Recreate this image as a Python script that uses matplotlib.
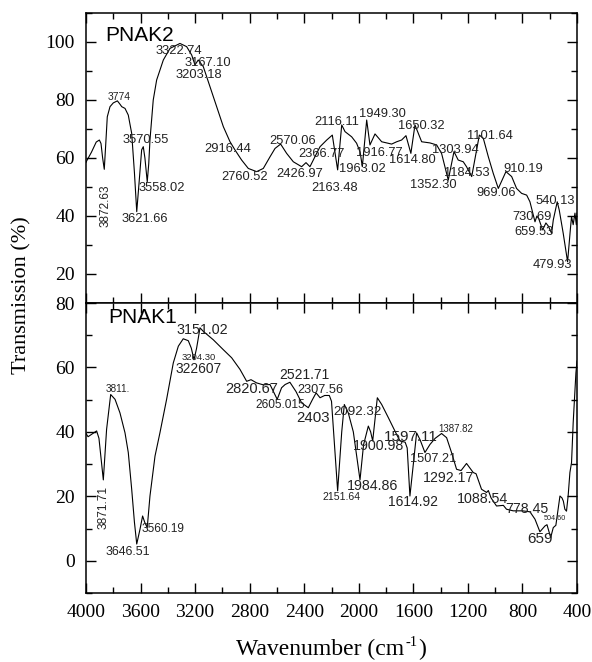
import matplotlib
matplotlib.use("Agg")
import matplotlib.pyplot as plt
from matplotlib.ticker import MultipleLocator

# ---------------- data ----------------
pnak2_wavenumber = [4000, 3995, 3960, 3925, 3902, 3890, 3878, 3866, 3855, 3844, 3824, 3800, 3770,
                    3750, 3738, 3714, 3690, 3675, 3665, 3645, 3628, 3610, 3592, 3580, 3568, 3551,
                    3540, 3531, 3507, 3482, 3433, 3384, 3311, 3262, 3225, 3201, 3177, 3140, 3091,
                    3042, 2993, 2944, 2908, 2859, 2810, 2749, 2700, 2651, 2614, 2573, 2529, 2480,
                    2419, 2387, 2358, 2309, 2284, 2235, 2194, 2155, 2125, 2101, 2052, 2016, 1990,
                    1974, 1942, 1918, 1881, 1832, 1759, 1722, 1686, 1654, 1618, 1588, 1539, 1478,
                    1429, 1393, 1344, 1302, 1271, 1234, 1210, 1172, 1136, 1116, 1087, 1050, 1014,
                    977, 921, 879, 843, 806, 769, 745, 708, 694, 680, 652, 628, 610, 586, 574, 545,
                    530, 501, 469, 447, 440, 428, 415, 405, 400]
pnak2_transmission = [58.5, 59, 62, 65.5, 66.2, 65, 60, 56.1, 65, 74.2, 77.7, 79, 79.7,
                      78.5, 77.7, 77.1, 74.8, 71, 68.5, 55, 41.5, 52, 62.8, 63.9, 60, 51.8,
                      58, 66.2, 80, 86.9, 93.8, 97.8, 99.5, 98.4, 95.5, 92.1, 93.8, 91.5, 84.6,
                      77.7, 70.8, 65.6, 62.8, 59.3, 56.4, 55.3, 56.4, 60.4, 63.3, 64.8, 61.6, 58.7,
                      57, 58.4, 57, 61.6, 63.9, 66.2, 67.9, 55.9, 71.4, 69.1, 67.3, 65.1, 62,
                      57, 73.1, 64.5, 68.3, 65.6, 64.8, 65.6, 66.2, 67.7, 61.6, 71.4, 65.6, 65.2,
                      64.5, 61.6, 52.4, 62.2, 59.3, 58.7, 57, 53.6, 62.8, 67.9, 66.8, 60.4, 54.7,
                      49.5, 55.3, 53.6, 49.5, 47.8, 47.2, 44.9, 38, 40, 39, 35.2, 37.6, 36.5, 34, 38.6, 44.9,
                      42, 34, 24.2, 36.3, 39.8, 37, 41, 37, 41]

pnak1_wavenumber = [4000, 3985, 3950, 3922, 3905, 3873, 3849, 3819, 3787, 3751, 3714, 3690, 3665,
                    3645, 3628, 3604, 3585, 3570, 3551, 3531, 3494, 3458, 3409, 3360, 3323, 3287,
                    3250, 3228, 3208, 3189, 3164, 3140, 3067, 2993, 2932, 2871, 2822, 2790, 2749,
                    2700, 2651, 2598, 2566, 2540, 2505, 2460, 2419, 2370, 2340, 2313, 2284, 2250,
                    2216, 2200, 2155, 2125, 2106, 2077, 2040, 1991, 1965, 1930, 1913, 1898, 1864,
                    1832, 1783, 1747, 1720, 1698, 1660, 1645, 1625, 1600, 1576, 1550, 1515, 1478,
                    1440, 1393, 1356, 1320, 1283, 1250, 1210, 1161, 1140, 1100, 1063, 1050, 1030,
                    990, 940, 917, 868, 800, 745, 708, 672, 635, 620, 593, 574, 555, 525, 510, 500,
                    489, 477, 465, 452, 440, 428, 408, 400]
pnak1_transmission = [39.5, 38.5, 39.5, 40.3, 38, 25.1, 40.8, 51.6, 50.1, 45.9, 39.7, 33.6, 22.2,
                      12, 5.2, 9.8, 13.9, 12, 10.3, 20.1, 32.5, 39.7, 50.1, 61.4, 66.6, 68.9,
                      68.3, 66, 62.4, 66, 72.3, 71.2, 68.6, 65.5, 63, 59.4, 55.7, 56.2, 55.2,
                      54.6, 54.7, 50.1, 53.7, 54.7, 55.4, 52.5, 49, 47.5, 50, 52.1, 50.6, 51.3,
                      51.3, 49.5, 21.7, 40, 48.5, 45.9, 40, 25.1, 36, 41.8, 40, 37.2, 50.6,
                      48.5, 44.4, 41.3, 39, 37.2, 36.8, 35, 20.1, 30, 39.7, 37.5, 33.6, 36.1,
                      38, 39.5, 38.2, 33.6, 28.4, 28, 30.2, 27.4, 27, 22.2, 21.2, 21.8, 19.5,
                      17, 17.2, 16, 15.5, 15.5, 15.2, 12.9, 9, 10.8, 11.2, 7.2, 10.3, 11, 20.1, 19.5, 18.5,
                      16, 15.4, 20.1, 27.4, 30.5, 42.8, 58.3, 62]

# peak labels: text, wavenumber, transmission, font size, rotation
pnak2_labels = [
    ("3322.74", 3316, 97.0, 9.3, 0), ("3167.10", 3103, 92.9, 9.3, 0), ("3203.18", 3174, 88.6, 9.3, 0),
    ("3774", 3760, 81.1, 7.5, 0), ("3570.55", 3565, 66.2, 9.3, 0), ("2916.44", 2959, 63.0, 9.3, 0),
    ("3558.02", 3445, 49.8, 9.3, 0), ("3621.66", 3567, 39.0, 9.3, 0), ("3872.63", 3856, 43.6, 8.5, 90),
    ("2760.52", 2837, 53.6, 9.3, 0), ("2570.06", 2485, 66.0, 9.3, 0), ("2426.97", 2434, 54.6, 9.3, 0),
    ("2366.77", 2270, 61.4, 9.3, 0), ("2163.48", 2174, 49.8, 9.3, 0), ("2116.11", 2160, 72.3, 9.3, 0),
    ("1949.30", 1825, 75.2, 9.3, 0), ("1916.77", 1850, 61.8, 9.3, 0), ("1963.02", 1972, 56.2, 9.3, 0),
    ("1650.32", 1544, 71.0, 9.3, 0), ("1614.80", 1608, 59.3, 9.3, 0), ("1303.94", 1295, 62.8, 9.3, 0),
    ("1101.64", 1036, 67.6, 9.3, 0), ("1352.30", 1451, 50.7, 9.3, 0), ("1184.53", 1205, 55.0, 9.3, 0),
    ("910.19", 791, 56.2, 9.3, 0), ("969.06", 994, 48.0, 9.3, 0), ("540.13", 561, 45.2, 9.3, 0),
    ("730.69", 733, 39.8, 9.3, 0), ("659.53", 718, 34.6, 9.3, 0), ("479.93", 579, 23.1, 9.3, 0),
]
pnak1_labels = [
    ("3151.02", 3150, 71.5, 10.3, 0), ("3204.30", 3177, 63.0, 6.8, 0), ("322607", 3174, 59.6, 9.9, 0),
    ("3811.", 3770, 53.2, 7.2, 0), ("2820.67", 2788, 53.2, 10.5, 0), ("2521.71", 2402, 57.8, 10.0, 0),
    ("2605.015", 2575, 48.2, 8.6, 0), ("2403", 2336, 44.4, 10.8, 0), ("2307.56", 2284, 53.0, 9.2, 0),
    ("3871.71", 3873, 16.5, 8.6, 90), ("3646.51", 3690, 2.6, 8.9, 0), ("3560.19", 3438, 9.8, 8.6, 0),
    ("2092.32", 2011, 46.1, 9.6, 0), ("2151.64", 2126, 19.9, 7.6, 0), ("1984.86", 1899, 23.2, 10.3, 0),
    ("1900.98", 1852, 35.6, 10.3, 0), ("1597.11", 1622, 38.5, 11.0, 0), ("1387.82", 1290, 40.8, 7.0, 0),
    ("1507.21", 1456, 31.7, 9.2, 0), ("1292.17", 1344, 25.6, 10.2, 0), ("1614.92", 1600, 18.1, 10.0, 0),
    ("1088.54", 1095, 19.1, 10.3, 0), ("778.45", 769, 16.0, 10.2, 0), ("504.60", 559, 13.1, 5.2, 0),
    ("659", 670, 6.9, 11.0, 0),
]

x_ticks = [4000, 3600, 3200, 2800, 2400, 2000, 1600, 1200, 800, 400]
top_yticks = [20, 40, 60, 80, 100]
bottom_yticks = [0, 20, 40, 60, 80]

# ---------------- figure ----------------
plt.rcParams['font.family'] = ['Liberation Serif', 'DejaVu Serif']

W, H = 592, 662
fig = plt.figure(figsize=(W / 100, H / 100), dpi=100)
left, right = 86 / W, 577 / W
ax_top = fig.add_axes([left, 1 - 303 / H, right - left, (303 - 13) / H])
ax_bot = fig.add_axes([left, 1 - 593 / H, right - left, (593 - 303) / H])

ax_top.plot(pnak2_wavenumber, pnak2_transmission, color='black', lw=0.8)
ax_bot.plot(pnak1_wavenumber, pnak1_transmission, color='black', lw=0.8)

for ax, ylim, yt in ((ax_top, (10, 110), top_yticks), (ax_bot, (-10, 80), bottom_yticks)):
    ax.set_xlim(4000, 400)
    ax.set_ylim(*ylim)
    ax.set_xticks(x_ticks)
    ax.set_yticks(yt)
    ax.xaxis.set_minor_locator(MultipleLocator(200))
    ax.yaxis.set_minor_locator(MultipleLocator(10))
    ax.tick_params(which='both', direction='in', top=True, right=True, width=1.0)
    ax.tick_params(which='major', length=7, labelsize=14, pad=8)
    ax.tick_params(which='minor', length=4)
    for s in ax.spines.values():
        s.set_linewidth(1.1)

ax_top.tick_params(labelbottom=False)

sans = ['Liberation Sans', 'DejaVu Sans']
ax_top.text(3860, 102.4, 'PNAK2', fontsize=15, family=sans, ha='left', va='center')
ax_bot.text(3836, 75.4, 'PNAK1', fontsize=15, family=sans, ha='left', va='center')

for ax, labels in ((ax_top, pnak2_labels), (ax_bot, pnak1_labels)):
    for txt, xv, yv, fs, rot in labels:
        ax.text(xv, yv, txt, fontsize=fs, family=sans, ha='center', va='center',
                rotation=rot, color='#222222')

fig.text(22 / W, 1 - 295 / H, 'Transmission (%)', rotation=90, fontsize=16,
         ha='center', va='center')

# x label: main part, superscript and closing parenthesis
renderer = fig.canvas.get_renderer()
base_y = 1 - 655 / H
parts = [("Wavenumber (cm", 17, 0), ("-1", 10.5, 9), (")", 17, 0)]
widths = []
for txt, fs, dy in parts:
    t = fig.text(0, 0, txt, fontsize=fs)
    widths.append(t.get_window_extent(renderer).width)
    t.remove()
total = sum(widths) + 2
x0 = 331 - total / 2
for (txt, fs, dy), w in zip(parts, widths):
    fig.text(x0 / W, base_y + dy / H, txt, fontsize=fs, ha='left', va='baseline')
    x0 += w + 1

fig.savefig('out.png', dpi=100)
